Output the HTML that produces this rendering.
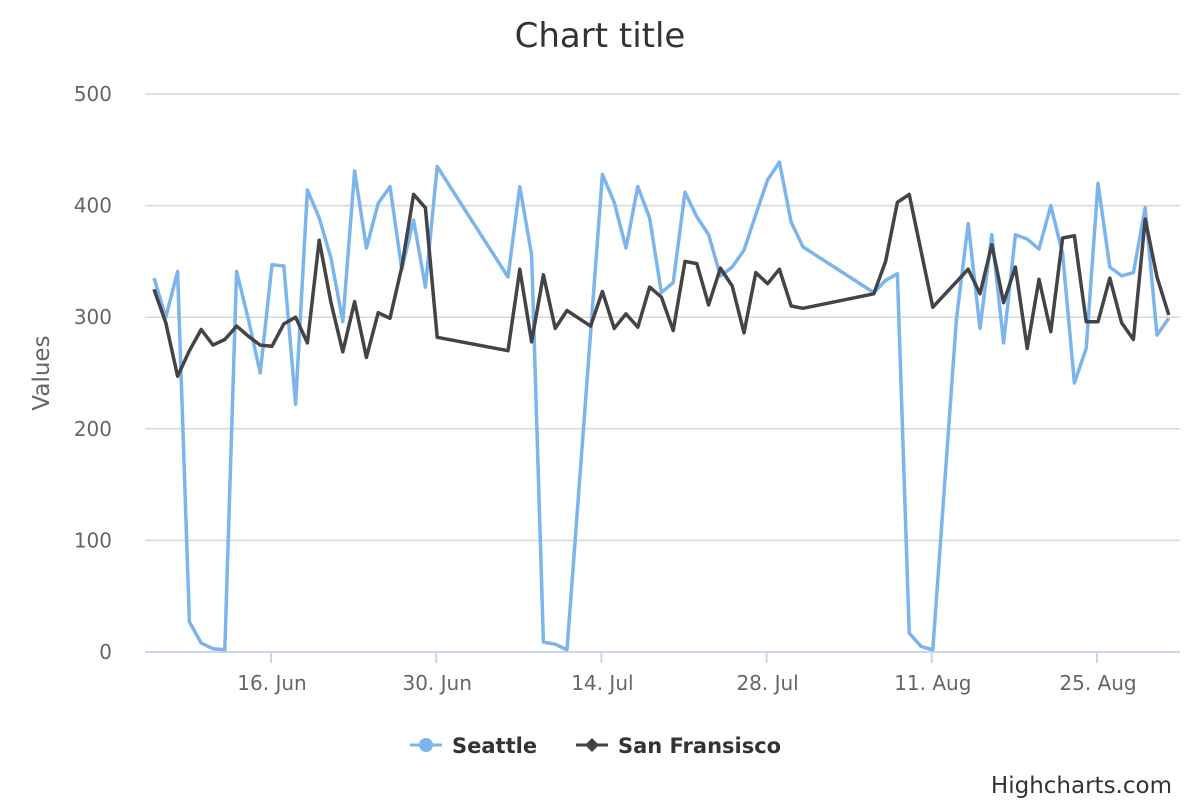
<!DOCTYPE html>
<html><head><meta charset="utf-8"><style>
html,body{margin:0;padding:0;background:#fff;}
svg{display:block;font-family:"DejaVu Sans","Liberation Sans",sans-serif;}
</style></head><body>
<svg id="chart" width="1200" height="800" viewBox="0 0 1200 800">
<text x="600" y="47" text-anchor="middle" font-size="34" fill="#333">Chart title</text>
<g id="grid"></g>
<g id="axes"></g>
<g id="series"></g>
<text transform="translate(49,373) rotate(-90)" text-anchor="middle" font-size="23" fill="#666">Values</text>
<g>
<line x1="410" y1="745" x2="442" y2="745" stroke="#7cb5ec" stroke-width="3"/>
<circle cx="426" cy="745" r="7" fill="#7cb5ec"/>
<text x="452" y="753" font-size="21" font-weight="bold" fill="#333">Seattle</text>
</g>
<g>
<line x1="576" y1="745" x2="608" y2="745" stroke="#434348" stroke-width="3"/>
<path d="M592 738 L599 745 L592 752 L585 745 Z" fill="#434348"/>
<text x="618" y="753" font-size="21" font-weight="bold" fill="#333">San Fransisco</text>
</g>
<text x="1172" y="793" text-anchor="end" font-size="23" fill="#333">Highcharts.com</text>
</svg>
<script>
// days relative to 16 Jun
const seattleDays = [-10,-9,-8,-7,-6,-5,-4,-3,-2,-1,0,1,2,3,4,5,6,7,8,9,10,11,12,13,14,20,21,22,23,24,25,28,29,30,31,32,33,34,35,36,37,38,39,40,41,42,43,44,45,51,52,53,54,55,56,58,59,60,61,62,63,64,65,66,67,68,69,70,71,72,73,74,75,76];
const seattleValues = [335,300,341,27,8,3,2,341,298,250,347,346,222,414,389,353,296,431,362,402,417,343,387,327,435,336,417,356,9,7,2,428,403,362,417,389,322,331,412,390,374,337,345,360,392,423,439,385,363,322,333,339,17,5,2,298,384,290,374,277,374,370,361,400,357,241,272,420,345,337,340,398,284,299];
const sfDays = [-10,-9,-8,-7,-6,-5,-4,-3,-2,-1,0,1,2,3,4,5,6,7,8,9,10,11,12,13,14,20,21,22,23,24,25,26,27,28,29,30,31,32,33,34,35,36,37,38,39,40,41,42,43,44,45,51,52,53,54,56,59,60,61,62,63,64,65,66,67,68,69,70,71,72,73,74,75,76];
const sfValues = [325,295,247,270,289,275,280,292,283,275,274,294,300,277,369,313,269,314,264,304,299,345,410,398,282,270,343,278,338,290,306,299,292,323,290,303,291,327,318,288,350,348,311,344,328,286,340,330,343,310,308,321,350,403,410,309,343,321,365,313,345,272,334,287,371,373,296,296,335,295,280,388,336,302];
const yTicks = [0,100,200,300,400,500];
const xTickDays = [0,14,28,42,56,70];
const xTickLabels = ["16. Jun","30. Jun","14. Jul","28. Jul","11. Aug","25. Aug"];

const NS="http://www.w3.org/2000/svg";
const L=145,R=1180,T=94,B=652;
const xS=d=>272+d*(165.2/14);
const yS=v=>B-(v/500)*(B-T);
function mk(tag,attrs,parent){const e=document.createElementNS(NS,tag);for(const k in attrs)e.setAttribute(k,attrs[k]);parent.appendChild(e);return e;}
const grid=document.getElementById('grid'),axes=document.getElementById('axes'),ser=document.getElementById('series');
yTicks.forEach(v=>{
  if(v>0){const g=mk('line',{x1:L,x2:R,y1:yS(v),y2:yS(v),stroke:'#d8d8d8','stroke-width':1.5},grid);
  
  }
  const t=mk('text',{x:112,y:yS(v)+7,'text-anchor':'end','font-size':20,fill:'#666'},axes);
  t.textContent=v;
  
  
});
const ax=mk('line',{x1:L,x2:R,y1:B,y2:B,stroke:'#ccd6eb','stroke-width':2},axes);


xTickDays.forEach((d,i)=>{
  const tk=mk('line',{x1:xS(d)-1,x2:xS(d)-1,y1:B,y2:B+11,stroke:'#ccd6eb','stroke-width':2},axes);
  
  
  const t=mk('text',{x:xS(d),y:690,'text-anchor':'middle','font-size':20,fill:'#666'},axes);
  t.textContent=xTickLabels[i];
  
  
});
function line(days,vals,color,name){
  const p=days.map((d,i)=>(i?'L':'M')+xS(d).toFixed(1)+' '+yS(vals[i]).toFixed(1)).join(' ');
  const e=mk('path',{d:p,fill:'none',stroke:color,'stroke-width':3.5,'stroke-linejoin':'round'},ser);
  
  
}
line(seattleDays,seattleValues,'#7cb5ec','seattle-line');
line(sfDays,sfValues,'#434348','san-fransisco-line');
</script>
</body></html>
